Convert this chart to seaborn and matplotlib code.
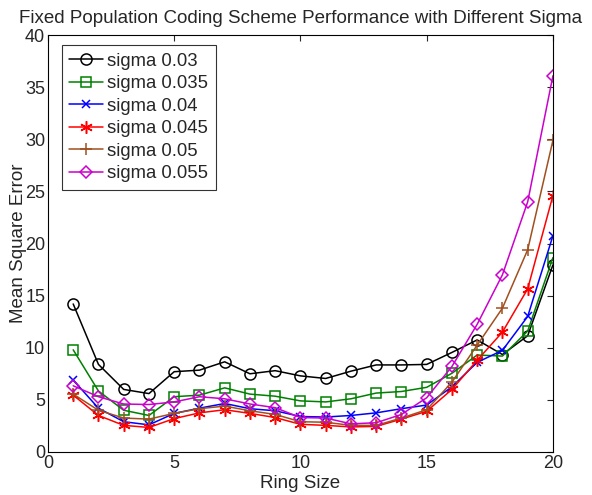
import numpy as np
import pandas as pd
import seaborn as sns
import matplotlib
matplotlib.use('Agg')
import matplotlib.pyplot as plt

# ring sizes and mean square error per sigma
ring_size = list(range(1, 21))

mse_003 = [14.2, 8.4, 6.0, 5.6, 7.7, 7.85, 8.65, 7.5, 7.8, 7.3,
           7.05, 7.75, 8.35, 8.35, 8.4, 9.55, 10.75, 9.35, 11.15, 17.95]
mse_0035 = [9.8, 5.85, 4.0, 3.5, 5.3, 5.45, 6.15, 5.55, 5.35, 4.9,
            4.8, 5.1, 5.65, 5.8, 6.2, 7.55, 9.3, 9.2, 11.6, 18.65]
mse_004 = [6.9, 4.2, 2.9, 2.6, 3.7, 4.2, 4.65, 4.15, 3.95, 3.4,
           3.35, 3.5, 3.75, 4.15, 4.5, 6.25, 8.6, 9.75, 13.0, 20.75]
mse_0045 = [5.45, 3.5, 2.55, 2.35, 3.2, 3.75, 4.05, 3.7, 3.3, 2.65,
            2.55, 2.4, 2.45, 3.15, 3.9, 6.0, 8.8, 11.5, 15.65, 24.6]
mse_005 = [5.55, 4.0, 3.25, 3.15, 3.7, 4.15, 4.4, 3.95, 3.6, 2.9,
           2.85, 2.55, 2.55, 3.25, 4.05, 6.7, 10.25, 13.8, 19.4, 29.9]
mse_0055 = [6.35, 5.3, 4.6, 4.55, 4.8, 5.3, 5.1, 4.6, 4.25, 3.3,
            3.25, 2.7, 2.8, 3.6, 5.2, 8.2, 12.25, 17.0, 24.0, 36.1]

labels = ['sigma 0.03', 'sigma 0.035', 'sigma 0.04', 'sigma 0.045', 'sigma 0.05', 'sigma 0.055']
series = [mse_003, mse_0035, mse_004, mse_0045, mse_005, mse_0055]
colors = ['black', '#008000', '#0000ff', '#ff0000', '#a0501e', '#cc00cc']
markers = ['o', 's', 'x', (6, 2, 0), '+', 'D']  # (6,2,0) = matlab-like asterisk
msizes = [8, 7, 6, 9, 9, 6]

sns.set_style('white')
plt.rcParams['font.family'] = ['Liberation Sans', 'DejaVu Sans']

fig = plt.figure(figsize=(5.92, 4.95), dpi=100)
ax = fig.add_axes([0.081, 0.087, 0.853, 0.842])

for lab, vals, c, m, ms in zip(labels, series, colors, markers, msizes):
    df = pd.DataFrame({'Ring Size': ring_size, 'MSE': vals})
    sns.lineplot(data=df, x='Ring Size', y='MSE', ax=ax, color=c, marker=m,
                 markersize=ms, markerfacecolor='none', markeredgecolor=c,
                 markeredgewidth=1.1, linewidth=1.1, label=lab)

ax.set_xlim(0, 20)
ax.set_ylim(0, 40)
ax.set_xticks([0, 5, 10, 15, 20])
ax.set_yticks(range(0, 41, 5))
ax.tick_params(direction='in', top=True, right=True, labelsize=13, length=4, width=0.8, pad=2)
for sp in ax.spines.values():
    sp.set_color('black')
    sp.set_linewidth(0.8)

ax.set_xlabel('Ring Size', fontsize=13.5)
ax.set_ylabel('Mean Square Error', fontsize=13.5)
ax.xaxis.set_label_coords(0.5, -0.055)
ax.yaxis.set_label_coords(-0.042, 0.5)
ax.set_title('Fixed Population Coding Scheme Performance with Different Sigma', fontsize=13.5, pad=9)

leg = ax.legend(loc='upper left', bbox_to_anchor=(0.0277, 0.976), borderaxespad=0,
                fontsize=13.3, frameon=True, fancybox=False, edgecolor='black',
                borderpad=0.4, labelspacing=0.3, handlelength=1.8, handletextpad=0.25)
leg.get_frame().set_linewidth(0.8)

fig.savefig('out.png', dpi=100)
